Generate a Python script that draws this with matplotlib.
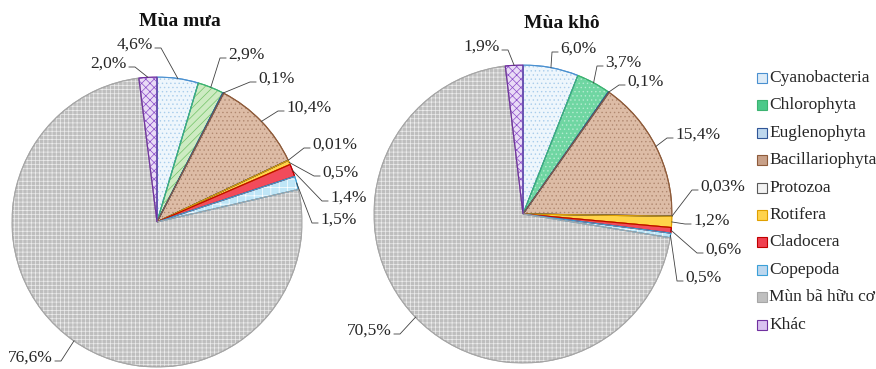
import math
import matplotlib
matplotlib.use("Agg")
import matplotlib.pyplot as plt
from matplotlib.patches import Wedge, Rectangle
from matplotlib.lines import Line2D

# ---------------- data ----------------
categories = ["Cyanobacteria", "Chlorophyta", "Euglenophyta", "Bacillariophyta",
              "Protozoa", "Rotifera", "Cladocera", "Copepoda", "Mùn bã hữu cơ", "Khác"]
rainy_values = [4.6, 2.9, 0.1, 10.4, 0.01, 0.5, 1.4, 1.5, 76.6, 2.0]
dry_values = [6.0, 3.7, 0.1, 15.4, 0.03, 1.2, 0.6, 0.5, 70.5, 1.9]
titles = ["Mùa mưa", "Mùa khô"]

# ---------------- styles ----------------
plt.rcParams["hatch.linewidth"] = 0.5
FONT = "Liberation Serif"

face = ["#EEF6FC", "#CDEBC2", "#BDD7EE", "#DDBCA6", "#D9D9D9",
        "#FFD449", "#F24B5B", "#BFE6F7", "#BEBEBE", "#E9DBF6"]
edge = ["#4A90D0", "#3CB371", "#2F5597", "#8E5B3A", "#595959",
        "#E0A000", "#C00000", "#3AA0D8", "#A6A6A6", "#7030A0"]
hatch = ["....", "////", None, "....", None, None, None, "++", "++++", "xxxx"]
hcol = ["#A9CDEB", "#72C267", None, "#B08870", None, None, None, "#FFFFFF", "#EDEDED", "#8A4CC8"]
face_dry_override = {1: "#6FD6A2"}
hatch_dry_override = {1: ("....", "#B5EBD0")}

legend_face = ["#DDEBF7", "#4CC98A", "#BDD7EE", "#C8A088", "#F2F2F2",
               "#FFD34D", "#F04050", "#BDD7EE", "#BFBFBF", "#D9C2F0"]

W, H = 876, 369
fig = plt.figure(figsize=(W / 100, H / 100), dpi=100)

geoms = [(157, 222, 145), (523, 214, 149)]

label_pos = [
    [(153, 45, "r"), (228, 55, "l"), (258, 79, "l"), (286, 108, "l"), (312, 145, "l"),
     (322, 173, "l"), (330, 198, "l"), (320, 220, "l"), (53, 358, "r"), (127, 64, "r")],
    [(560, 49, "l"), (605, 63, "l"), (627, 82, "l"), (675, 135, "l"), (700, 187, "l"),
     (693, 221, "l"), (705, 250, "l"), (685, 278, "l"), (392, 331, "r"), (500, 47, "r")],
]
title_pos = [(180, 21), (562, 23)]


def fmt(v):
    s = f"{v:.2f}" if v < 0.1 else f"{v:.1f}"
    return s.replace(".", ",") + "%"


for k, values in enumerate([rainy_values, dry_values]):
    cx, cy, r = geoms[k]
    ax = fig.add_axes([(cx - r) / W, (H - cy - r) / H, 2 * r / W, 2 * r / H])
    wedges, _ = ax.pie(values, startangle=90, counterclock=False, radius=1,
                       wedgeprops=dict(linewidth=0.8))
    for i, w in enumerate(wedges):
        fc = face[i]
        hc = (hatch[i], hcol[i])
        if k == 1 and i in face_dry_override:
            fc = face_dry_override[i]
            hc = hatch_dry_override[i]
        w.set_facecolor(fc)
        w.set_edgecolor(edge[i])
        if hc[0]:
            ov = Wedge(w.center, w.r, w.theta1, w.theta2, facecolor="none",
                       edgecolor=hc[1], linewidth=0, hatch=hc[0], zorder=w.get_zorder() + 0.1)
            ax.add_patch(ov)
        ed = Wedge(w.center, w.r, w.theta1, w.theta2, facecolor="none",
                   edgecolor=edge[i], linewidth=0.8, zorder=w.get_zorder() + 0.2)
        ax.add_patch(ed)
    ax.set_xlim(-1, 1)
    ax.set_ylim(-1, 1)
    ax.axis("off")

    def to_data(px, py):
        return ((px - cx) / r, (cy - py) / r)

    for i, w in enumerate(wedges):
        mid = math.radians((w.theta1 + w.theta2) / 2)
        ex, ey = math.cos(mid), math.sin(mid)
        px, py, side = label_pos[k][i]
        ha = "left" if side == "l" else "right"
        tx, ty = to_data(px, py)
        ax.text(tx, ty, fmt(values[i]), ha=ha, va="center", fontsize=12.5,
                family=FONT, color="#262626", clip_on=False)
        stub = -6 if side == "l" else 6
        ax_, ay_ = to_data(px + (-2 if side == "l" else 2), py + 3)
        sx, sy = to_data(px + (-2 if side == "l" else 2) + stub, py + 3)
        ax.add_line(Line2D([ax_, sx, ex], [ay_, sy, ey], color="#404040",
                           linewidth=0.6, clip_on=False, zorder=5))

    tx_, ty_ = title_pos[k]
    fig.text(tx_ / W, 1 - ty_ / H, titles[k], ha="center", va="center",
             fontsize=14, fontweight="bold", family=FONT, color="#111111")

# legend
for i, name in enumerate(categories):
    y = 78 + i * 27.4
    fig.patches.append(Rectangle((757 / W, 1 - (y + 5) / H), 10 / W, 10 / H,
                                 transform=fig.transFigure, facecolor=legend_face[i],
                                 edgecolor=edge[i], linewidth=0.8))
    fig.text(769 / W, 1 - y / H, name, ha="left", va="center", fontsize=12.5,
             family=FONT, color="#262626")

fig.savefig("out.png", dpi=100)
